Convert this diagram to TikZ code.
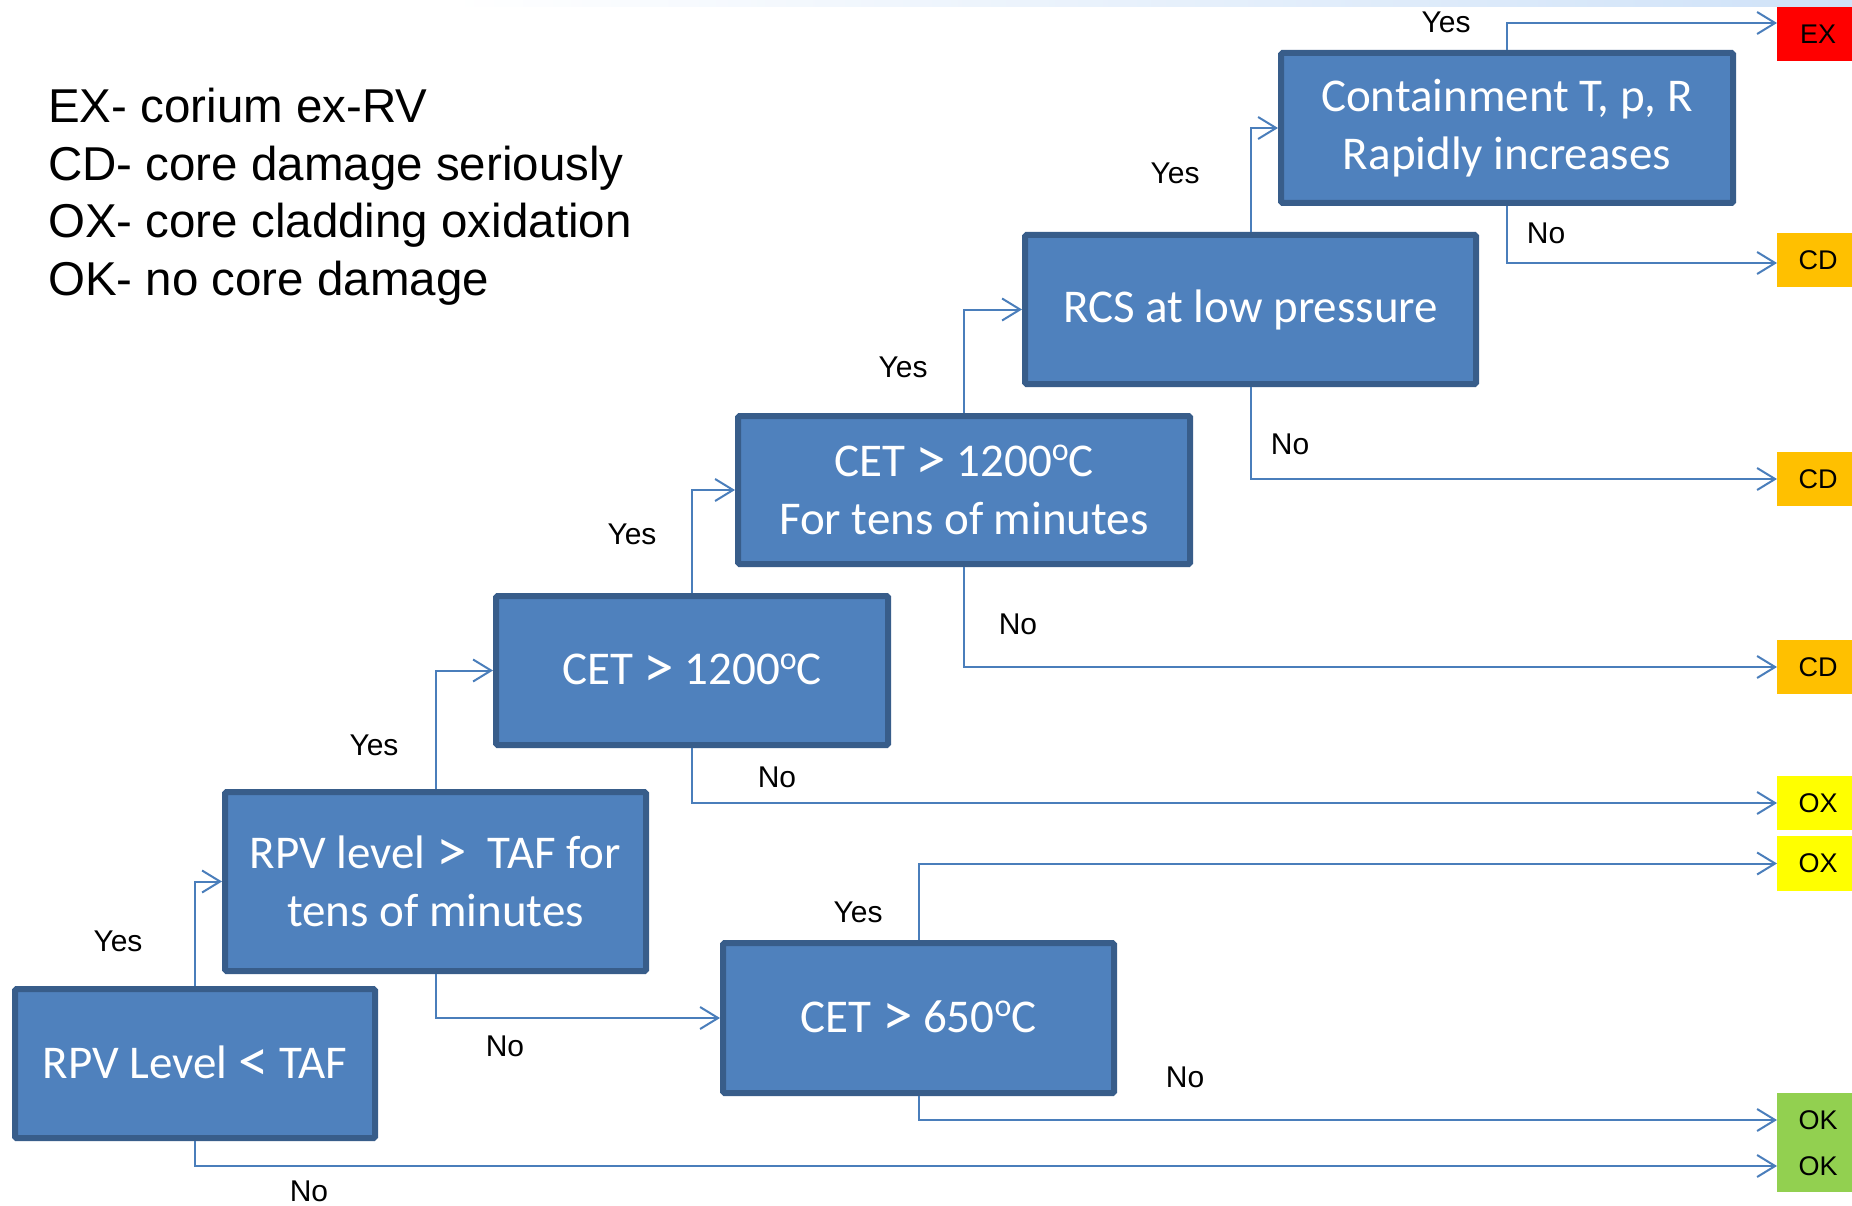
\documentclass[tikz,border=0pt]{standalone}
\usepackage{fontspec}
\setmainfont{Liberation Sans}
\newfontfamily\carlito{Carlito}
\usepackage{graphicx}
\usetikzlibrary{arrows.meta}
\definecolor{boxfill}{HTML}{4F81BD}
\definecolor{boxline}{HTML}{385D8A}
\definecolor{connblue}{HTML}{4A7EBB}
\definecolor{exred}{HTML}{FF0000}
\definecolor{cdorange}{HTML}{FFC000}
\definecolor{oxyellow}{HTML}{FFFF00}
\definecolor{okgreen}{HTML}{92D050}
\definecolor{bandblue}{HTML}{CFE2F8}
\newcommand\dego{\raisebox{0.33em}{\scalebox{0.68}{o}}}
\newcommand\gtsym{\raisebox{-0.06em}{\scalebox{1.3}{>}}}
\newcommand\ltsym{\raisebox{-0.06em}{\scalebox{1.3}{<}}}
\begin{document}
\begin{tikzpicture}[x=1pt,y=-1pt,
  decision/.style={draw=boxline, fill=boxfill, line width=6pt, rounded corners=1.5pt,
    text=white, font=\carlito\fontsize{47}{58}\selectfont, align=center, inner sep=0pt},
  outcome/.style={anchor=west, minimum width=82pt, inner sep=0pt,
    font=\fontsize{27}{32}\selectfont, text=black},
  lab/.style={font=\fontsize{30}{36}\selectfont, inner sep=0pt},
  legend/.style={anchor=base west, font=\fontsize{47.5}{58}\selectfont, inner sep=0pt},
  link/.style={draw=connblue, line width=2pt, -{Straight Barb[length=18pt,width=22pt]}},
]
\useasboundingbox (0,0) rectangle (1852,1206);
\fill[white] (0,0) rectangle (1852,1206);
\shade[left color=white, right color=bandblue] (450,0) rectangle (1852,7);

% legend
\node[legend] (leg1) at (48,123) {EX- corium ex-RV};
\node[legend] (leg2) at (48,181) {CD- core damage seriously};
\node[legend] (leg3) at (48,238) {OX- core cladding oxidation};
\node[legend] (leg4) at (48,295) {OK- no core damage};

% decision boxes
\node[decision, minimum width=360pt, minimum height=149pt] (a) at (195,1063.5) {RPV Level \ltsym\ TAF};
\node[decision, minimum width=421pt, minimum height=179pt] (b) at (435.5,881.5) {RPV level \gtsym\ \ TAF for\\tens of minutes};
\node[decision, minimum width=391pt, minimum height=150pt] (c) at (918.5,1018) {CET \gtsym\ 650\dego C};
\node[decision, minimum width=392pt, minimum height=149pt] (d) at (692,670.5) {CET \gtsym\ 1200\dego C};
\node[decision, minimum width=452pt, minimum height=148pt] (e) at (964,490) {CET \gtsym\ 1200\dego C\\For tens of minutes};
\node[decision, minimum width=451pt, minimum height=149pt] (f) at (1250.5,309.5) {RCS at low pressure};
\node[decision, minimum width=452pt, minimum height=150pt] (g) at (1507,128) {\raisebox{-4pt}{Containment T, p, R}\\\raisebox{-4pt}{Rapidly increases}};

% outcomes
\node[outcome, fill=exred, minimum height=54pt] (ex) at (1777,34) {EX};
\node[outcome, fill=cdorange, minimum height=54pt] (cd1) at (1777,260) {CD};
\node[outcome, fill=cdorange, minimum height=54pt] (cd2) at (1777,479) {CD};
\node[outcome, fill=cdorange, minimum height=54pt] (cd3) at (1777,667) {CD};
\node[outcome, fill=oxyellow, minimum height=54pt] (ox1) at (1777,803) {OX};
\node[outcome, fill=oxyellow, minimum height=55pt] (ox2) at (1777,863.5) {OX};
\node[outcome, fill=okgreen, minimum height=99pt] (okbox) at (1777,1142.5) {};
\node[outcome] (ok1) at (1777,1120) {OK};
\node[outcome] (ok2) at (1777,1166) {OK};

% connectors
\draw[link] (a.north) |- (b.west);
\draw[link] (a.south) |- (ok2.west);
\draw[link] (b.north) |- (d.west);
\draw[link] (b.south) |- (c.west);
\draw[link] (c.north) |- (ox2.west);
\draw[link] (c.south) |- (ok1.west);
\draw[link] (d.north) |- (e.west);
\draw[link] (d.south) |- (ox1.west);
\draw[link] (e.north) |- (f.west);
\draw[link] (e.south) |- (cd3.west);
\draw[link] (f.north) |- (g.west);
\draw[link] (f.south) |- (cd2.west);
\draw[link] (g.north) |- ([yshift=11pt]ex.west);
\draw[link] (g.south) |- ([yshift=-3pt]cd1.west);

% labels
\node[lab] (y1) at (118,941) {Yes};
\node[lab] (n1) at (309,1191) {No};
\node[lab] (y2) at (374,745) {Yes};
\node[lab] (n2) at (505,1046) {No};
\node[lab] (y3) at (858,912) {Yes};
\node[lab] (n3) at (1185,1077) {No};
\node[lab] (y4) at (632,534) {Yes};
\node[lab] (n4) at (777,777) {No};
\node[lab] (y5) at (903,367) {Yes};
\node[lab] (n5) at (1018,624) {No};
\node[lab] (y6) at (1175,173) {Yes};
\node[lab] (n6) at (1290,444) {No};
\node[lab] (y7) at (1446,22) {Yes};
\node[lab] (n7) at (1546,233) {No};
\end{tikzpicture}
\end{document}
